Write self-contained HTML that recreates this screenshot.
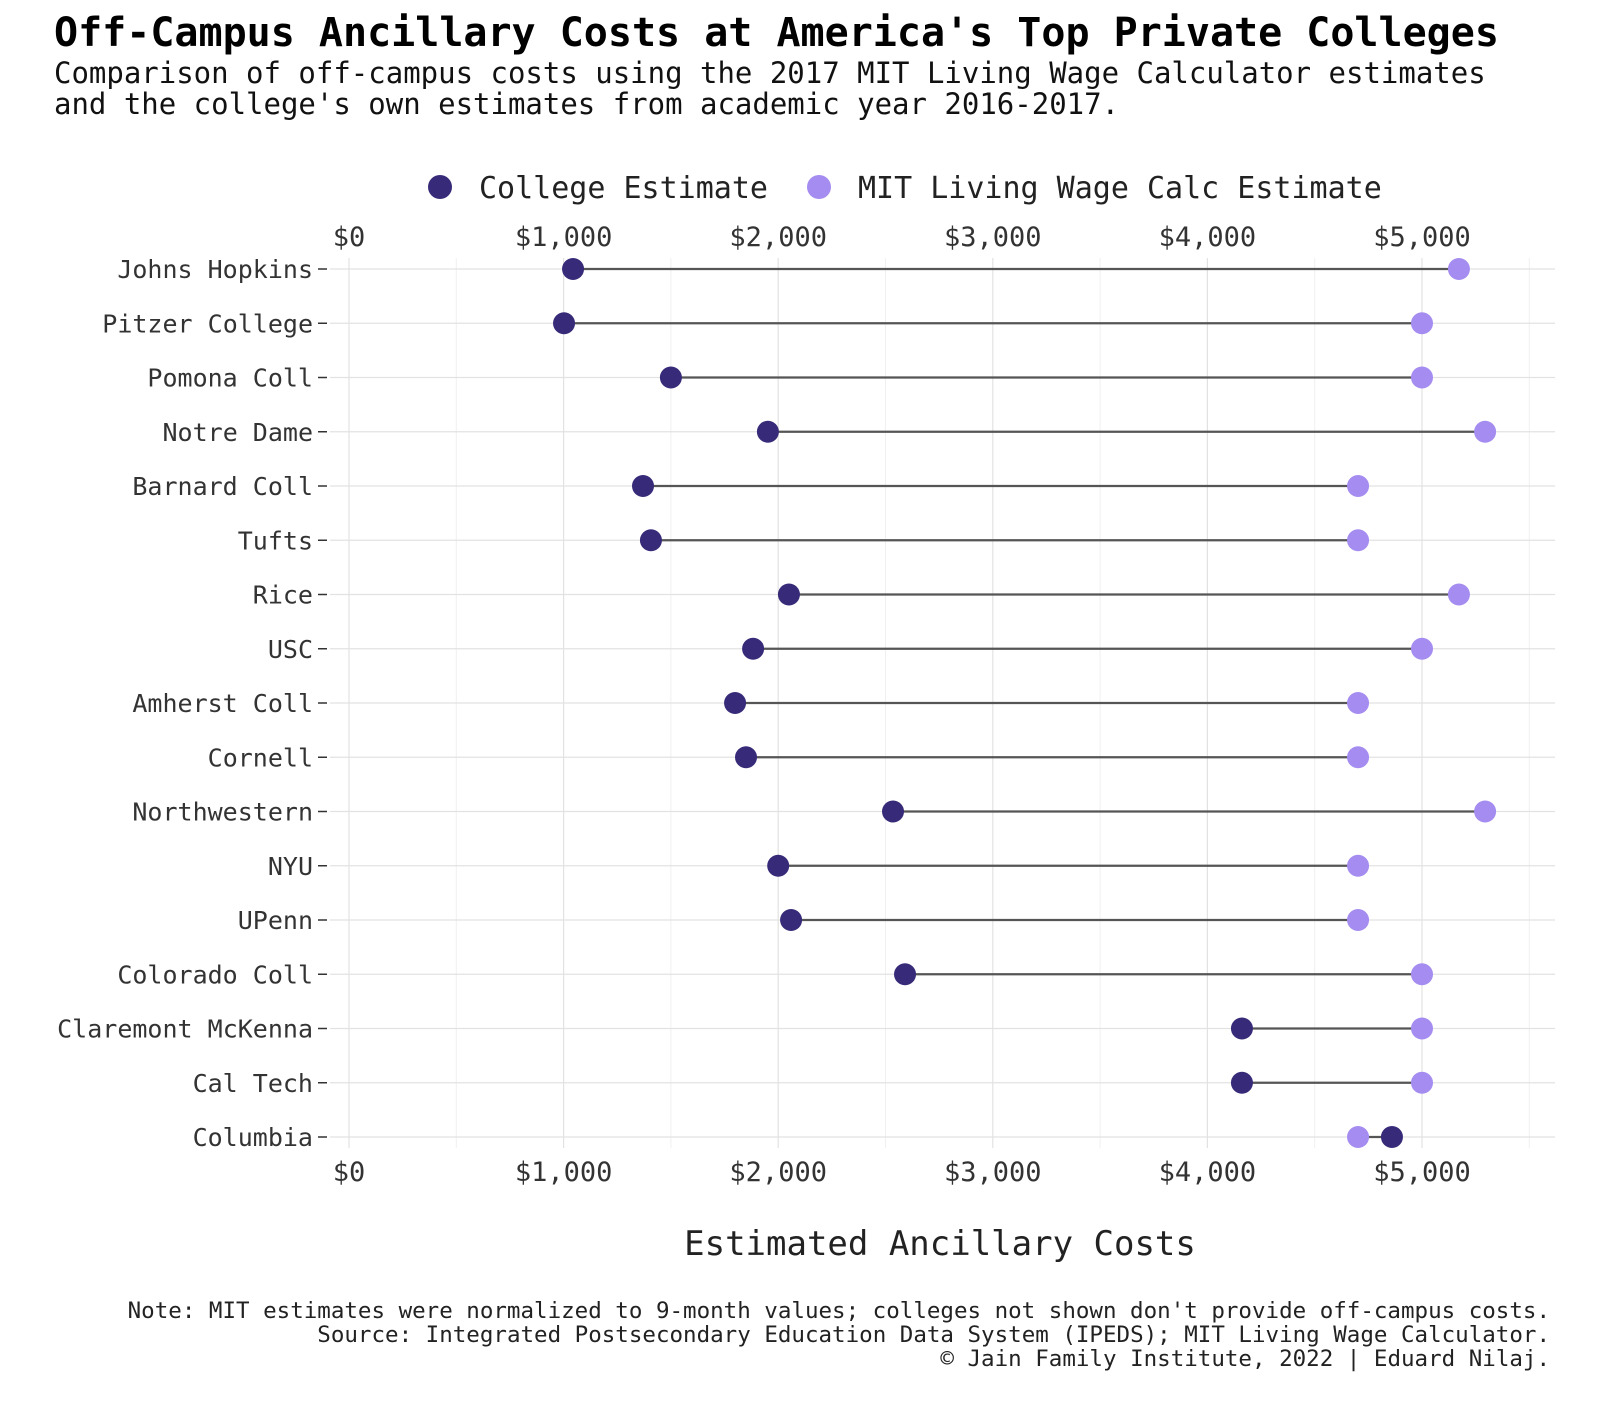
<!DOCTYPE html>
<html><head><meta charset="utf-8"><style>
body{margin:0;background:#fff;}
svg{display:block;font-family:"DejaVu Sans Mono","Liberation Mono",monospace;}
</style></head><body>
<svg id="chart" width="1600" height="1415" viewBox="0 0 1600 1415" xmlns="http://www.w3.org/2000/svg">
<rect width="1600" height="1415" fill="#fff"/>
<text x="54" y="46" font-size="40" font-weight="bold" fill="#000" font-family="DejaVu Sans Mono, monospace">Off-Campus Ancillary Costs at America's Top Private Colleges</text>
<text x="54" y="83" font-size="29" fill="#111">Comparison of off-campus costs using the 2017 MIT Living Wage Calculator estimates</text>
<text x="54" y="114" font-size="29" fill="#111">and the college's own estimates from academic year 2016-2017.</text>
<g>
<circle cx="440" cy="187" r="12" fill="#372a78"/>
<text x="479" y="198" font-size="30" fill="#222">College Estimate</text>
<circle cx="819" cy="187" r="12" fill="#a48cf0"/>
<text x="858" y="198" font-size="30" fill="#222">MIT Living Wage Calc Estimate</text>
</g>
<g id="grid"></g><g id="axes"></g><g id="marks"></g>
<text x="940" y="1255" font-size="34" fill="#222" text-anchor="middle">Estimated Ancillary Costs</text>
<g font-size="22.5" fill="#222" text-anchor="end">
<text x="1550" y="1318">Note: MIT estimates were normalized to 9-month values; colleges not shown don't provide off-campus costs.</text>
<text x="1550" y="1342">Source: Integrated Postsecondary Education Data System (IPEDS); MIT Living Wage Calculator.</text>
<text x="1550" y="1366">© Jain Family Institute, 2022 | Eduard Nilaj.</text>
</g>
</svg>
<script>
const colleges=["Johns Hopkins","Pitzer College","Pomona Coll","Notre Dame","Barnard Coll","Tufts","Rice","USC","Amherst Coll","Cornell","Northwestern","NYU","UPenn","Colorado Coll","Claremont McKenna","Cal Tech","Columbia"];
const collegeEst=[1044,1002,1500,1952,1370,1407,2050,1883,1799,1850,2535,2000,2060,2591,4161,4161,4860];
const mitEst=[5172,5000,5000,5294,4702,4702,5172,5000,4702,4702,5294,4702,4702,5000,5000,5000,4702];
const tickVals=[0,1000,2000,3000,4000,5000];
const tickLabels=["$0","$1,000","$2,000","$3,000","$4,000","$5,000"];
const minorVals=[500,1500,2500,3500,4500,5500];

const NS="http://www.w3.org/2000/svg";
const X=v=>349+v*0.2146;
const Y=i=>269+i*(1137-269)/(colleges.length-1);
function mk(tag,attrs,parent){const e=document.createElementNS(NS,tag);for(const k in attrs)e.setAttribute(k,attrs[k]);parent.appendChild(e);return e;}
const grid=document.getElementById('grid'),axes=document.getElementById('axes'),marks=document.getElementById('marks');
const top0=258,bot0=1148,left0=330,right0=1555;
minorVals.forEach(v=>{const l=mk('line',{x1:X(v),x2:X(v),y1:top0,y2:bot0,stroke:'#f0f0f0','stroke-width':1},grid);

});
tickVals.forEach((v,i)=>{const l=mk('line',{x1:X(v),x2:X(v),y1:top0,y2:bot0,stroke:'#e2e2e2','stroke-width':1.2},grid);


const t1=mk('text',{x:X(v),y:246,'font-size':27,fill:'#333','text-anchor':'middle'},axes);t1.textContent=tickLabels[i];


const t2=mk('text',{x:X(v),y:1181,'font-size':27,fill:'#333','text-anchor':'middle'},axes);t2.textContent=tickLabels[i];

});
colleges.forEach((c,i)=>{const y=Y(i);
const g=mk('line',{x1:left0,x2:right0,y1:y,y2:y,stroke:'#e2e2e2','stroke-width':1.2},grid);


const tk=mk('line',{x1:318,x2:327,y1:y,y2:y,stroke:'#333','stroke-width':1.5},axes);


const t=mk('text',{x:313,y:y+9,'font-size':25,fill:'#333','text-anchor':'end'},axes);t.textContent=c;


const ln=mk('line',{x1:X(collegeEst[i]),x2:X(mitEst[i]),y1:y,y2:y,stroke:'#555','stroke-width':2.2},marks);


const p1=mk('circle',{cx:X(mitEst[i]),cy:y,r:11,fill:'#a48cf0'},marks);


const p2=mk('circle',{cx:X(collegeEst[i]),cy:y,r:11,fill:'#372a78'},marks);

});
</script>
</body></html>
